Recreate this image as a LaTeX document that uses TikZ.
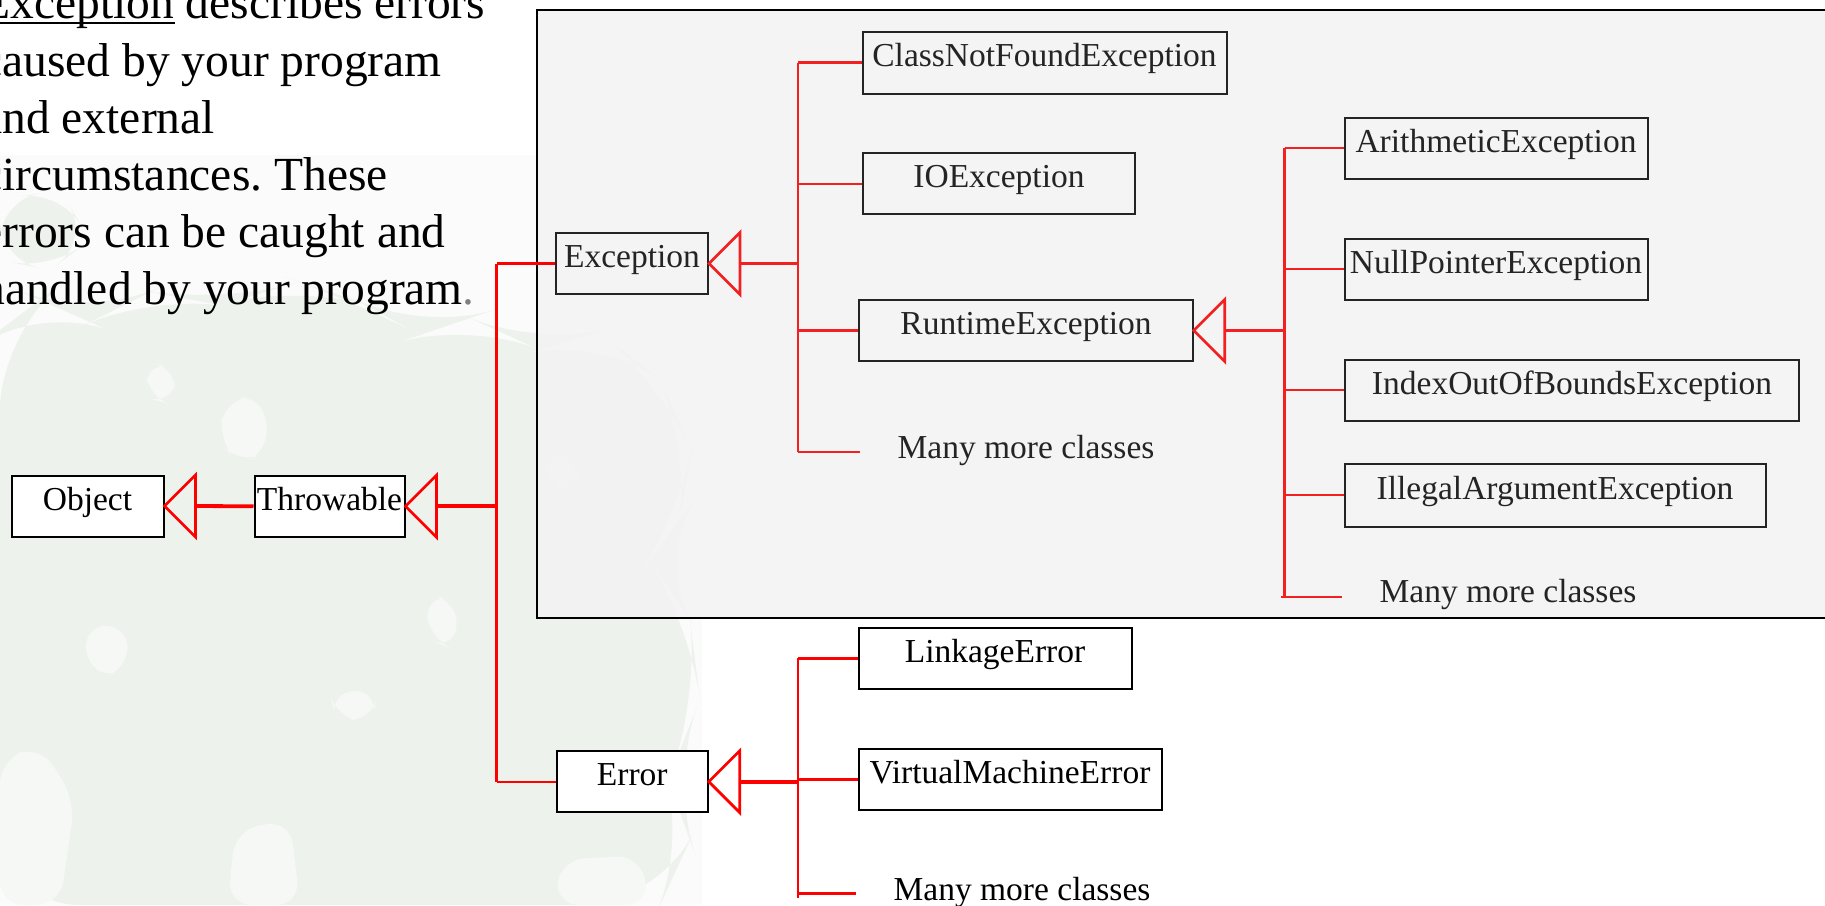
\documentclass[tikz,border=0pt]{standalone}
\usepackage{fontspec}
\setmainfont{Liberation Serif}
\frenchspacing
\definecolor{wire}{RGB}{255,0,0}
\definecolor{wirein}{RGB}{242,32,32}
\definecolor{panel}{RGB}{243,243,243}
\definecolor{leaf}{RGB}{237,242,237}
\definecolor{leafbg}{RGB}{250,251,250}
\definecolor{leafgap}{RGB}{246,248,246}
\definecolor{inkin}{RGB}{36,36,36}
\tikzset{
  para/.style={inner sep=0pt, anchor=base west, font=\fontsize{23.75}{28}\selectfont},
  cls/.style={rectangle, draw=black, fill=white, line width=1pt, inner sep=0pt,
    minimum height=30.5pt, text height=0.66em, text depth=0.25em,
    font=\fontsize{16.75}{20}\selectfont},
  clsin/.style={cls, draw=inkin, fill=none, text=inkin},
  note/.style={inner sep=0pt, anchor=base, font=\fontsize{16.75}{20}\selectfont},
  bus/.style={draw=wire, line width=1.35pt},
  twig/.style={draw=wire, line width=1.2pt},
  stem/.style={draw=wire, line width=1.9pt},
  head/.style={draw=wire, line width=1.35pt, line join=miter},
  gap/.style={fill=leafgap, rounded corners=12},
}
\begin{document}
\begin{tikzpicture}[x=0.5pt,y=-0.5pt]
\useasboundingbox (0,0) rectangle (1825,905);
\clip (0,0) rectangle (1825,905);

% backdrop: white page with a faint leafy crown in the lower left
\fill[white] (0,0) rectangle (1825,905);
\fill[leafbg] (0,155) rectangle (702,905);
\fill[leaf, rounded corners=40] (0,330) -- (40,300) -- (90,322) -- (150,292) -- (220,305)
  -- (300,282) -- (360,302) -- (420,335) -- (470,318) -- (540,350) -- (600,332)
  -- (660,380) -- (692,450) -- (680,520) -- (650,560) -- (690,620) -- (700,700)
  -- (668,780) -- (690,840) -- (660,905) -- (0,905) -- cycle;
\fill[leaf, rounded corners=20] (0,200) -- (60,190) -- (90,240) -- (50,270) -- (0,260) -- cycle;
\fill[gap] (225,400) -- (262,395) -- (270,450) -- (240,465) -- (218,440) -- cycle;
\fill[gap] (80,630) -- (125,622) -- (130,668) -- (95,680) -- cycle;
\fill[gap] (235,830) -- (290,820) -- (300,905) -- (228,905) -- cycle;
\fill[gap] (0,760) -- (40,745) -- (75,800) -- (60,905) -- (0,905) -- cycle;
\fill[gap] (425,595) -- (458,600) -- (455,650) -- (430,640) -- cycle;
\fill[gap] (145,362) -- (178,368) -- (172,405) -- (148,398) -- cycle;
\fill[gap] (330,692) -- (378,690) -- (372,722) -- (335,718) -- cycle;
\fill[gap] (542,455) -- (580,458) -- (576,490) -- (545,486) -- cycle;
\fill[gap] (560,860) -- (640,855) -- (650,905) -- (555,905) -- cycle;

% explanatory paragraph
\node[para] (p1) at (-19,18.5) {Exception describes errors};
\draw[line width=1pt] (-19,23.3) -- (175,23.3);
\node[para] (p2) at (-19,76) {caused by your program};
\node[para] (p3) at (-19,133.2) {and external};
\node[para] (p4) at (-19,190.4) {circumstances. These};
\node[para] (p5) at (-19,247.6) {errors can be caught and};
\node[para] (p6) at (-19,304.8) {handled by your program{\color{gray}.}};

% panel holding the Exception subtree
\draw[line width=1.25pt, fill=panel, fill opacity=0.85] (537,10) rectangle (1840,618);

% classes outside the panel
\node[cls, minimum width=76pt]    (obj) at (87.5,506)   {Object};
\node[cls, minimum width=75pt]    (thr) at (329.5,506.3) {Throwable};
\node[cls, minimum width=75.5pt]  (err) at (632.3,781.7) {Error};
\node[cls, minimum width=136.5pt] (lnk) at (995,658.3)   {LinkageError};
\node[cls, minimum width=151.5pt] (vme) at (1010,779.5)  {VirtualMachineError};
\node[note] (mm3) at (1022,900) {Many more classes};

% classes inside the panel
\node[clsin, minimum width=76pt]     (exc) at (632,263.5)  {Exception};
\node[clsin, minimum width=182pt, minimum height=31pt] (cnf) at (1044.5,62.5) {ClassNotFoundException};
\node[clsin, minimum width=136pt]    (ioe) at (999,183.7)  {IOException};
\node[clsin, minimum width=166.75pt] (rte) at (1026,330.5) {RuntimeException};
\node[note, text=inkin] (mm1) at (1026,458) {Many more classes};
\node[clsin, minimum width=151.5pt]  (ari) at (1496,148)   {ArithmeticException};
\node[clsin, minimum width=151.5pt]  (npe) at (1496,269)   {NullPointerException};
\node[clsin, minimum width=227pt]    (iob) at (1572,390)   {IndexOutOfBoundsException};
\node[clsin, minimum width=210.5pt, minimum height=31.5pt] (iae) at (1555,495) {IllegalArgumentException};
\node[note, text=inkin] (mm2) at (1508,602.5) {Many more classes};

% Object <- Throwable
\draw[head] (obj.east) -- ++(31,-31) -- ++(0,62) -- cycle;
\draw[stem] ([xshift=15.5pt]obj.east) -- (thr.west);

% Throwable <- Exception, Error
\coordinate (tb1) at (496.5,263.5);
\coordinate (tb2) at (496.5,781.7);
\draw[head] (thr.east) -- ++(31,-31) -- ++(0,62) -- cycle;
\draw[stem] ([xshift=15.5pt]thr.east) -- (thr.east -| tb1);
\draw[bus] (tb1) -- (tb2);
\draw[twig] (tb1) -- (exc.west);
\draw[twig] (tb2) -- (err.west);

% Exception subtree
\coordinate (eb1) at (798,62.5);
\coordinate (eb2) at (798,452);
\coordinate (mm1tip) at (859.5,452);
\draw[head, draw=wirein] (exc.east) -- ++(31,-31) -- ++(0,62) -- cycle;
\draw[stem, draw=wirein] ([xshift=15.5pt]exc.east) -- (exc.east -| eb1);
\draw[bus, draw=wirein] (eb1) -- (eb2);
\draw[twig, draw=wirein] (cnf.west -| eb1) -- (cnf.west);
\draw[twig, draw=wirein] (ioe.west -| eb1) -- (ioe.west);
\draw[twig, draw=wirein] (rte.west -| eb1) -- (rte.west);
\draw[twig, draw=wirein] (eb2) -- (mm1tip);

% RuntimeException subtree
\coordinate (rb1) at (1284.5,148);
\coordinate (rb2) at (1284.5,597);
\coordinate (mm2root) at (1281,597);
\coordinate (mm2tip) at (1341.5,597);
\draw[head, draw=wirein] (rte.east) -- ++(31,-31) -- ++(0,62) -- cycle;
\draw[stem, draw=wirein] ([xshift=15.5pt]rte.east) -- (rte.east -| rb1);
\draw[bus, draw=wirein] (rb1) -- (rb2);
\draw[twig, draw=wirein] (ari.west -| rb1) -- (ari.west);
\draw[twig, draw=wirein] (npe.west -| rb1) -- (npe.west);
\draw[twig, draw=wirein] (iob.west -| rb1) -- (iob.west);
\draw[twig, draw=wirein] (iae.west -| rb1) -- (iae.west);
\draw[twig, draw=wirein] (mm2root) -- (mm2tip);

% Error subtree
\coordinate (rrb1) at (798,658.3);
\coordinate (rrb2) at (798,898);
\coordinate (mm3root) at (798,893.3);
\coordinate (mm3tip) at (856,893.3);
\draw[head] (err.east) -- ++(31,-31) -- ++(0,62) -- cycle;
\draw[stem] ([xshift=15.5pt]err.east) -- (err.east -| rrb1);
\draw[bus] (rrb1) -- (rrb2);
\draw[twig] (lnk.west -| rrb1) -- (lnk.west);
\draw[twig] (vme.west -| rrb1) -- (vme.west);
\draw[twig] (mm3root) -- (mm3tip);
\end{tikzpicture}
\end{document}
